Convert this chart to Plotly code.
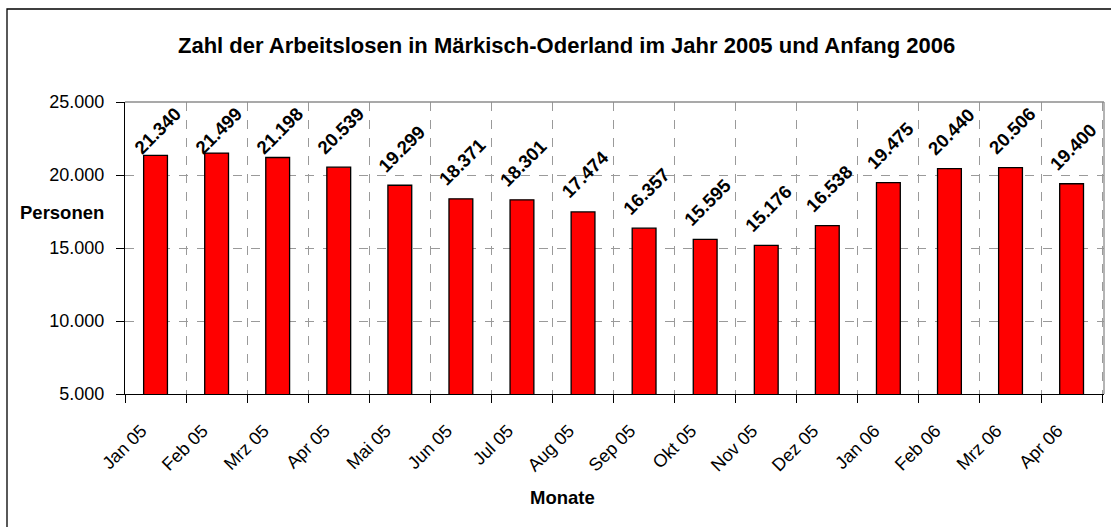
import plotly.graph_objects as go

months = ["Jan 05", "Feb 05", "Mrz 05", "Apr 05", "Mai 05", "Jun 05", "Jul 05", "Aug 05",
          "Sep 05", "Okt 05", "Nov 05", "Dez 05", "Jan 06", "Feb 06", "Mrz 06", "Apr 06"]
persons = [21340, 21499, 21198, 20539, 19299, 18371, 18301, 17474,
           16357, 15595, 15176, 16538, 19475, 20440, 20506, 19400]
y_ticks = [5000, 10000, 15000, 20000, 25000]

title_text = "Zahl der Arbeitslosen in Märkisch-Oderland im Jahr 2005 und Anfang 2006"
y_title = "Personen"
x_title = "Monate"

W, H = 1111, 527
ML, MR, MT, MB = 125, 7, 102, 133
PW = W - ML - MR
PH = H - MT - MB
Y0, Y1 = 5000, 25000

def px_x(x):
    return (x - ML) / PW

def px_y(y):
    return (H - MB - y) / PH

def de(v):
    return f"{v:,}".replace(",", ".")

FONT = "Liberation Sans, Arial, sans-serif"

# label centre: 37 px above bar top, kept inside the plot area
units_per_px = (Y1 - Y0) / PH
label_y = [min(v + 37 * units_per_px, Y0 + (H - MB - 130) * units_per_px) for v in persons]

fig = go.Figure(go.Bar(
    x=months, y=persons,
    marker=dict(color="#FF0000", line=dict(color="#000000", width=1.3)),
    hoverinfo="x+y",
))

annotations = [
    dict(text=de(v), x=m, y=ly, xref="x", yref="y", showarrow=False,
         xanchor="center", yanchor="middle", textangle=-45, xshift=2,
         font=dict(family=FONT, size=18.5, color="black", weight="bold"))
    for m, v, ly in zip(months, persons, label_y)
]
annotations += [
    dict(text=title_text, xref="paper", yref="paper", x=px_x(566), y=px_y(45),
         showarrow=False, xanchor="center", yanchor="middle",
         font=dict(family=FONT, size=22, color="black", weight="bold")),
    dict(text=y_title, xref="paper", yref="paper", x=px_x(62), y=px_y(212),
         showarrow=False, xanchor="center", yanchor="middle",
         font=dict(family=FONT, size=18.5, color="black", weight="bold")),
    dict(text=x_title, xref="paper", yref="paper", x=px_x(562), y=px_y(497),
         showarrow=False, xanchor="center", yanchor="middle",
         font=dict(family=FONT, size=18.5, color="black", weight="bold")),
]

fig.update_layout(
    width=W, height=H,
    margin=dict(l=ML, r=MR, t=MT, b=MB, autoexpand=False),
    paper_bgcolor="white", plot_bgcolor="white",
    separators=",.",
    bargap=0.61,
    showlegend=False,
    font=dict(family=FONT, color="black"),
    xaxis=dict(
        type="category", tickson="boundaries",
        showgrid=True, gridcolor="#9a9a9a", griddash="dash", gridwidth=1,
        showline=True, linecolor="black", linewidth=1.3,
        ticks="outside", ticklen=8, tickcolor="black",
        tickangle=-45, tickfont=dict(family=FONT, size=18, color="black"),
        ticklabelstandoff=18, ticklabelshift=-14, automargin=False,
    ),
    yaxis=dict(
        range=[Y0, Y1], tickvals=y_ticks, tickformat=",d",
        showgrid=True, gridcolor="#9a9a9a", griddash="dash", gridwidth=1,
        showline=True, linecolor="black", linewidth=1.3,
        ticks="outside", ticklen=8, tickcolor="black",
        tickfont=dict(family=FONT, size=18, color="black"),
        ticklabelstandoff=8, zeroline=False, automargin=False,
    ),
    shapes=[
        dict(type="line", xref="paper", yref="paper", x0=0, x1=1, y0=1, y1=1,
             line=dict(color="#8c8c8c", width=1.3), layer="above"),
        dict(type="line", xref="paper", yref="paper", x0=1, x1=1, y0=0, y1=1,
             line=dict(color="#8c8c8c", width=1.3), layer="above"),
        dict(type="rect", xref="paper", yref="paper",
             x0=px_x(7), x1=px_x(1116), y0=px_y(9), y1=px_y(535),
             line=dict(color="black", width=1.3), layer="above"),
    ],
    annotations=annotations,
)

fig.write_html("out.html", config={"displayModeBar": False},
               post_script="document.body.style.margin='0';")
